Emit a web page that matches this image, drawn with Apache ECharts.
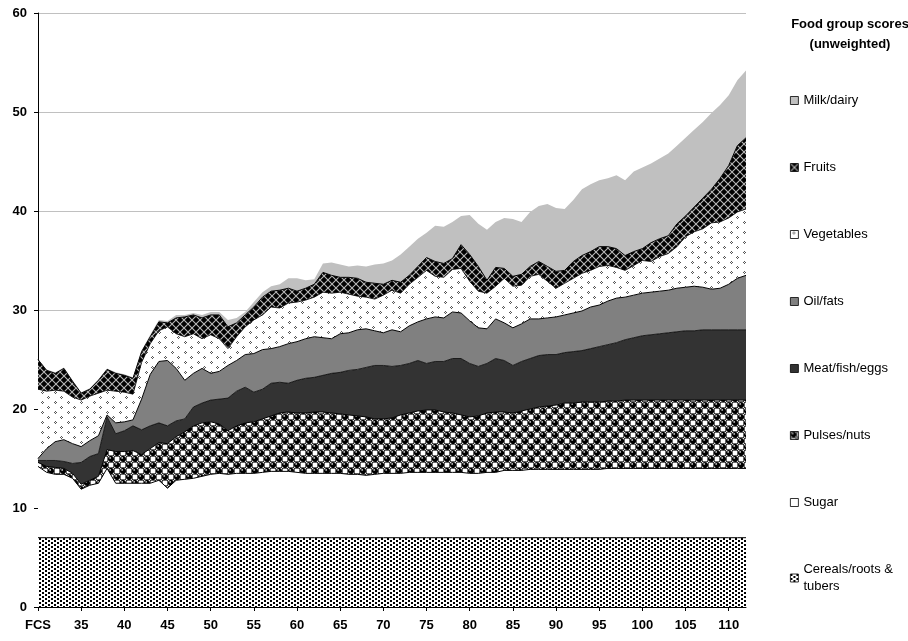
<!DOCTYPE html>
<html>
<head>
<meta charset="utf-8">
<script src="https://cdn.jsdelivr.net/npm/echarts@6/dist/echarts.min.js"></script>
<style>
html,body{margin:0;padding:0;background:#fff;}
#chart{width:908px;height:641px;}
</style>
</head>
<body>
<div id="chart"></div>
<script>
// FCS values (x axis categories)
const fcs = ['30','31','32','33','34','35','36','37','38','39',
  '40','41','42','43','44','45','46','47','48','49',
  '50','51','52','53','54','55','56','57','58','59',
  '60','61','62','63','64','65','66','67','68','69',
  '70','71','72','73','74','75','76','77','78','79',
  '80','81','82','83','84','85','86','87','88','89',
  '90','91','92','93','94','95','96','97','98','99',
  '100','101','102','103','104','105','106','107','108','109',
  '110','111','111.5'];
const xTickLabels = ['FCS','35','40','45','50','55','60','65','70','75','80','85','90','95','100','105','110'];

const cereals = [7,7,7,7,7,7,7,7,7,7,
  7,7,7,7,7,7,7,7,7,7,
  7,7,7,7,7,7,7,7,7,7,
  7,7,7,7,7,7,7,7,7,7,
  7,7,7,7,7,7,7,7,7,7,
  7,7,7,7,7,7,7,7,7,7,
  7,7,7,7,7,7,7,7,7,7,
  7,7,7,7,7,7,7,7,7,7,
  7,7,7];

const sugar = [7.2,6.6,6.4,6.4,6.0,4.9,5.3,5.5,7.0,5.5,
  5.5,5.5,5.5,5.5,5.8,5.0,5.8,5.9,6.0,6.2,
  6.4,6.5,6.4,6.5,6.5,6.5,6.6,6.7,6.7,6.7,
  6.6,6.5,6.5,6.5,6.5,6.5,6.4,6.4,6.3,6.4,
  6.5,6.5,6.5,6.6,6.6,6.6,6.6,6.6,6.6,6.6,
  6.5,6.5,6.6,6.6,6.8,6.8,6.8,6.9,6.9,6.9,
  6.9,6.9,6.9,6.9,6.9,6.9,7.0,7.0,7.0,7.0,
  7.0,7.0,7.0,7.0,7.0,7.0,7.0,7.0,7.0,7.0,
  7.0,7.0,7.0];

const pulses = [0.4,0.6,0.7,0.6,0.5,0.5,0.5,0.7,1.9,3.2,
  3.2,3.3,2.9,3.5,3.8,4.5,4.4,4.8,5.3,5.4,
  5.3,5.0,4.4,4.8,5.1,5.2,5.4,5.6,5.9,6.0,
  6.0,6.1,6.2,6.2,6.1,6.0,6.0,5.9,5.9,5.6,
  5.5,5.6,5.9,6.0,6.2,6.3,6.3,6.1,6.0,5.8,
  5.7,5.8,6.0,6.1,5.9,5.8,6.0,6.1,6.3,6.4,
  6.5,6.7,6.7,6.8,6.8,6.8,6.8,6.8,6.9,6.9,
  6.9,6.9,6.9,6.9,6.9,6.9,6.9,6.9,6.9,6.9,
  6.9,6.9,6.9];

const meat = [0.2,0.6,0.7,0.7,1.0,2.2,2.4,2.3,3.3,1.8,
  2.1,2.5,2.5,2.3,2.0,1.8,1.6,1.3,1.9,2.0,
  2.2,2.5,3.3,3.5,3.6,3.0,3.0,3.3,3.1,2.9,
  3.3,3.5,3.5,3.7,4.0,4.2,4.5,4.7,5.0,5.4,
  5.4,5.2,5.0,5.0,5.1,4.7,4.9,5.1,5.5,5.7,
  5.4,5.0,5.0,5.4,5.2,4.8,5.0,5.1,5.2,5.2,
  5.1,5.1,5.2,5.2,5.4,5.6,5.7,5.9,6.1,6.3,
  6.5,6.6,6.7,6.8,6.9,7.0,7.0,7.1,7.1,7.1,
  7.1,7.1,7.1];

const oil = [0.2,1.2,1.9,2.2,2.0,1.6,1.6,1.8,0.2,1.1,
  0.9,0.6,3.1,5.2,6.2,6.6,5.3,3.9,3.4,3.5,
  2.7,2.8,3.3,3.1,3.3,3.9,4.0,3.5,3.6,4.0,
  3.9,4.0,4.1,3.8,3.5,3.9,3.8,4.0,3.9,3.5,
  3.3,3.7,3.4,3.8,3.9,4.5,4.5,4.4,4.7,4.6,
  4.3,3.9,3.5,4.0,3.8,3.8,3.8,4.0,3.7,3.7,
  3.8,3.8,3.9,4.0,4.2,4.2,4.4,4.5,4.3,4.3,
  4.3,4.3,4.3,4.3,4.4,4.4,4.5,4.3,4.1,4.2,
  4.6,5.2,5.5];

const vegetables = [7.0,5.8,5.2,4.9,4.7,4.7,4.5,4.3,2.5,3.2,
  3.0,2.6,3.7,3.1,3.1,3.4,3.5,4.4,4.0,3.0,
  3.9,3.3,1.7,2.4,2.8,3.4,3.5,4.2,3.9,4.1,
  4.0,3.9,4.0,4.6,4.6,4.2,3.9,3.4,3.2,3.2,
  3.8,4.0,3.9,4.2,4.5,4.9,4.1,4.1,4.3,4.5,
  4.0,3.7,3.6,3.3,4.5,4.2,3.9,4.3,4.5,3.7,
  2.9,3.2,3.5,3.8,3.7,3.9,3.6,3.1,2.7,3.0,
  3.3,3.1,3.5,3.7,4.2,5.1,5.5,5.9,6.7,6.7,
  6.7,6.7,6.7];

const fruits = [3.0,2.1,1.7,2.3,1.6,0.7,0.7,1.3,2.1,1.8,
  1.7,1.6,1.1,0.7,0.9,0.4,1.6,2.0,1.9,2.1,
  2.0,2.4,2.2,1.4,1.2,1.3,1.8,1.6,1.8,1.5,
  1.1,1.2,1.3,2.0,1.8,1.5,1.7,1.8,1.5,1.6,
  1.1,1.0,1.1,0.9,1.1,1.3,1.5,1.4,1.1,2.4,
  2.7,2.5,1.3,1.9,1.0,1.0,1.1,1.0,1.3,1.5,
  1.7,1.3,1.7,1.8,1.9,2.0,1.9,1.9,1.5,1.4,
  1.2,1.9,1.8,1.8,2.3,2.1,2.5,3.1,3.4,4.4,
  5.3,6.7,7.2];

const milk = [0.0,0.1,0.1,0.1,0.1,0.1,0.1,0.1,0.1,0.1,
  0.1,0.1,0.1,0.2,0.2,0.2,0.3,0.2,0.2,0.3,
  0.3,0.3,0.7,0.5,0.3,0.5,0.5,0.5,0.6,1.0,
  1.3,0.8,0.5,0.9,1.3,1.3,1.1,1.3,1.6,1.9,
  2.1,2.0,2.8,2.9,2.8,2.5,3.6,3.7,3.7,2.9,
  4.0,4.3,5.1,4.6,5.1,5.8,5.3,5.5,5.6,6.3,
  6.4,6.2,6.2,6.7,6.8,6.7,6.9,7.4,7.6,8.1,
  8.2,8.0,8.1,8.3,7.9,7.9,7.8,7.7,7.7,7.4,
  7.1,6.6,6.8];

const seriesNames = ['Cereals/roots & tubers','Sugar','Pulses/nuts','Meat/fish/eggs','Oil/fats','Vegetables','Fruits','Milk/dairy'];
const yTicks = [0,10,20,30,40,50,60];

// ---- fill patterns (style only) ----
function tile(w, h, draw) {
  const c = document.createElement('canvas');
  c.width = w; c.height = h;
  const g = c.getContext('2d');
  draw(g);
  return c;
}
// staggered dots for cereals
const cerealTile = tile(6, 4, g => {
  g.fillStyle = '#fff'; g.fillRect(0,0,6,4);
  g.fillStyle = '#000';
  g.fillRect(0,0,2,2); g.fillRect(3,2,2,2);
});
// checkered spheres for pulses
const pulsesTile = tile(12, 12, g => {
  g.fillStyle = '#fff'; g.fillRect(0,0,12,12);
  g.fillStyle = '#000';
  g.beginPath(); g.arc(3,3,3.1,0,Math.PI*2); g.fill();
  g.beginPath(); g.arc(9,9,3.1,0,Math.PI*2); g.fill();
  g.strokeStyle = '#000'; g.lineWidth = 0.6;
  g.strokeRect(6.3,0.3,5.4,5.4); g.strokeRect(0.3,6.3,5.4,5.4);
  g.fillStyle = '#c8c8c8';
  g.beginPath(); g.arc(2.2,1.9,0.9,0,Math.PI*2); g.fill();
  g.beginPath(); g.arc(8.2,7.9,0.9,0,Math.PI*2); g.fill();
});
// small chevrons for vegetables
const vegTile = tile(13, 10, g => {
  g.fillStyle = '#fff'; g.fillRect(0,0,13,10);
  g.fillStyle = '#555';
  g.fillRect(3,1,1,1); g.fillRect(2,2,1,1); g.fillRect(3,3,1,1); g.fillRect(4,2,1,1);
  g.fillRect(9,6,1,1); g.fillRect(10,7,1,1); g.fillRect(9,8,1,1); g.fillRect(8,7,1,1);
});
// black with grey diamond lattice for fruits
const fruitTile = tile(8, 8, g => {
  g.fillStyle = '#000'; g.fillRect(0,0,8,8);
  g.strokeStyle = '#b8b8b8'; g.lineWidth = 1.1;
  g.beginPath(); g.moveTo(0,0); g.lineTo(8,8); g.moveTo(8,0); g.lineTo(0,8); g.stroke();
});
const pat = c => ({ image: c, repeat: 'repeat' });

const fills = [pat(cerealTile), '#ffffff', pat(pulsesTile), '#333333', '#808080', pat(vegTile), pat(fruitTile), '#c0c0c0'];
const lineW = [1, 1, 1, 0.8, 1, 0.8, 1, 0];
const values = [cereals, sugar, pulses, meat, oil, vegetables, fruits, milk];

const series = seriesNames.map((name, k) => ({
  name: name,
  type: 'line',
  stack: 'total',
  symbol: 'none',
  showSymbol: false,
  smooth: false,
  data: values[k],
  lineStyle: { color: '#000', width: lineW[k], opacity: lineW[k] ? 1 : 0 },
  areaStyle: { color: fills[k], opacity: 1 },
  itemStyle: { color: fills[k], borderColor: '#000', borderWidth: 1 },
  emphasis: { disabled: true },
  z: 2
}));

const legendData = seriesNames.slice().reverse().map(n => {
  const k = seriesNames.indexOf(n);
  return { name: n, icon: 'rect', itemStyle: { color: fills[k], borderColor: '#000', borderWidth: 0.8 } };
});

const isTick = (idx) => idx % 5 === 0 && idx <= 80;

const chart = echarts.init(document.getElementById('chart'), null, { renderer: 'canvas' });
chart.setOption({
  animation: false,
  backgroundColor: '#fff',
  textStyle: { fontFamily: '"Liberation Sans", Arial, sans-serif' },
  title: {
    text: 'Food group scores\n(unweighted)',
    left: 845, top: 9, textAlign: 'center',
    textStyle: { fontSize: 13, fontWeight: 'bold', color: '#000', lineHeight: 20, fontFamily: '"Liberation Sans", Arial, sans-serif' }
  },
  grid: { left: 38, right: 162, top: 13, bottom: 34, containLabel: false },
  legend: {
    orient: 'vertical',
    left: 785, top: 87,
    itemWidth: 8, itemHeight: 8, itemGap: 50,
    data: legendData,
    selectedMode: false,
    formatter: n => n === 'Cereals/roots & tubers' ? 'Cereals/roots &\ntubers' : n,
    textStyle: { fontSize: 13, color: '#000', lineHeight: 17, fontFamily: '"Liberation Sans", Arial, sans-serif' }
  },
  xAxis: {
    type: 'category', data: fcs, boundaryGap: false,
    axisLine: { show: true, lineStyle: { color: '#000', width: 1 } },
    axisTick: { show: true, length: 4, interval: (i) => isTick(i), lineStyle: { color: '#000' } },
    splitLine: { show: false },
    axisLabel: {
      margin: 12, fontSize: 13, fontWeight: 'bold', color: '#000',
      interval: (i) => isTick(i),
      formatter: (v, i) => xTickLabels[i / 5]
    }
  },
  yAxis: {
    type: 'value', min: yTicks[0], max: yTicks[yTicks.length - 1], interval: 10,
    axisLine: { show: true, lineStyle: { color: '#000', width: 1 } },
    axisTick: { show: true, length: 4, lineStyle: { color: '#000' } },
    splitLine: { show: true, lineStyle: { color: '#c0c0c0', width: 1 } },
    axisLabel: { margin: 11, fontSize: 13, fontWeight: 'bold', color: '#000' }
  },
  series: series
});
</script>
</body>
</html>
